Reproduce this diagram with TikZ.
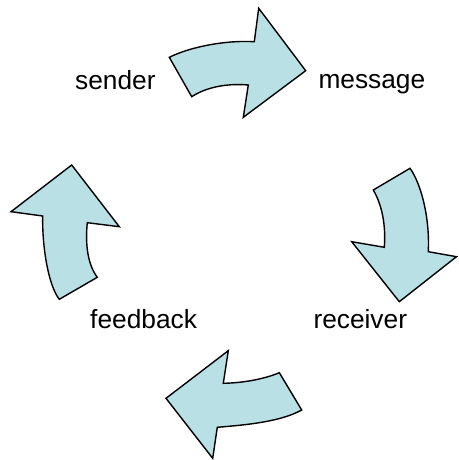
\documentclass[tikz,border=0pt]{standalone}
\usepackage{fontspec}
\setmainfont{Liberation Sans}
\definecolor{arrowfill}{RGB}{185,224,229}
\begin{document}
\begin{tikzpicture}[x=1pt,y=1pt,
  blockarrow/.style={draw=black,fill=arrowfill,line width=1.4pt,line join=miter},
  lbl/.style={anchor=base west,inner sep=0pt,font=\fontsize{26.3}{30}\selectfont}]
\useasboundingbox (0,0) rectangle (458,460);

% sender -> message
\draw[blockarrow] (169.3,402.7) .. controls (190,413) and (225,420) .. (254.3,418.3)
  -- (258.7,451.7) -- (305.7,389.3) -- (243.3,342.7) -- (248.3,375)
  .. controls (225,377) and (205,372) .. (191.7,363.3) -- cycle;

% message -> receiver
\draw[blockarrow] (373.3,270) -- (410,291.7)
  .. controls (420,278) and (430,245) .. (428.3,208.3)
  -- (456.5,203.3) -- (399.3,158.3) -- (351.7,218.3) -- (384.3,212.7)
  .. controls (386,235) and (382,255) .. cycle;

% receiver -> feedback
\draw[blockarrow] (301.7,50) -- (279.3,87.3)
  .. controls (262,80) and (240,77) .. (223.3,76.7)
  -- (228.3,109.3) -- (166,61.7) -- (212.7,1.7) -- (217.3,32.7)
  .. controls (245,35) and (280,38) .. cycle;

% feedback -> sender
\draw[blockarrow] (97.3,182.7) -- (59.3,160.7)
  .. controls (48,175) and (42,215) .. (42.7,244)
  -- (11,248.3) -- (71.7,295) -- (119.3,233.3) -- (87.3,237.3)
  .. controls (85,215) and (88,195) .. cycle;

\node[lbl] (sender)   at (75,370.7)  {sender};
\node[lbl] (message)  at (318.3,371.7) {message};
\node[lbl] (receiver) at (313.3,131.7) {receiver};
\node[lbl] (feedback) at (90,131.7)  {feedback};
\end{tikzpicture}
\end{document}
